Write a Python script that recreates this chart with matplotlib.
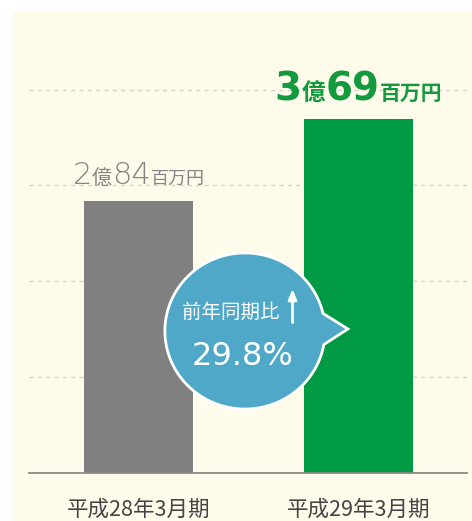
import matplotlib
matplotlib.use('Agg')
import matplotlib.pyplot as plt
import numpy as np
from matplotlib.path import Path
from matplotlib.patches import PathPatch
from matplotlib.offsetbox import TextArea, HPacker, AnnotationBbox

plt.rcParams['font.family'] = ['Noto Sans CJK JP', 'DejaVu Sans']

# 데이터 (백만엔)
periods = ['平成28年3月期', '平成29年3月期']
sales = [284, 369]
label_oku = ['2', '3']
label_rest = ['84', '69']
growth = 29.8
grid_values = [100, 200, 300, 400]

bar_colors = ['#808080', '#009944']
text_colors = ['#858585', '#139a3f']
cream = '#fefbea'

fig = plt.figure(figsize=(4.72, 5.21), dpi=100)
ax = fig.add_axes([13 / 472, 0, 459 / 472, 510 / 521])
ax.set_facecolor(cream)
ax.set_xlim(-0.5705, 1.516)
ax.set_ylim(-50, 482)
for s in ax.spines.values():
    s.set_visible(False)
ax.set_xticks([])
ax.set_yticks([])

x = np.arange(len(periods))

# 점선 격자
for g in grid_values:
    ax.plot([-0.498, 1.493], [g, g], ls=(0, (3, 3)), color='#d6d4ca', lw=1.0, zorder=1)

ax.bar(x, sales, width=0.495, color=bar_colors, zorder=2)
ax.plot([-0.498, 1.493], [0, 0], color='#8a8a88', lw=1.3, zorder=3)

# x축 이름
for xi, p in zip(x, periods):
    ax.text(xi, -38, p, ha='center', va='center', fontsize=15.5, color='#444444')

# 막대 위 금액 라벨 (글자 크기 섞어서)
sizes = [(22, 14.5, 13), (28, 17, 15)]
digit_weights = ['light', 'bold']
weights = ['normal', 'bold']
for i in range(len(sales)):
    d, k1, k2 = sizes[i]
    c = text_colors[i]
    w = weights[i]
    dw = digit_weights[i]
    parts = [
        TextArea(label_oku[i], textprops=dict(fontsize=d, color=c, weight=dw,
                                              family=['DejaVu Sans'])),
        TextArea('億', textprops=dict(fontsize=k1, color=c, weight=w)),
        TextArea(label_rest[i], textprops=dict(fontsize=d, color=c, weight=dw,
                                               family=['DejaVu Sans'])),
        TextArea('百万円', textprops=dict(fontsize=k2, color=c, weight=w)),
    ]
    box = HPacker(children=parts, align='baseline', pad=0, sep=0)
    ab = AnnotationBbox(box, (x[i], sales[i]), xybox=(0, 8),
                        xycoords='data', boxcoords='offset points',
                        box_alignment=(0.5, 0), frameon=False, zorder=4)
    ax.add_artist(ab)

# 말풍선
cx, cy = 0.484, 148.2
rx, ry = 0.364, 81.4
tip = (0.952, 150.3)
a1, a2 = np.deg2rad(13), np.deg2rad(350)
t = np.linspace(a1, a2, 200)
pts = np.column_stack([cx + rx * np.cos(t), cy + ry * np.sin(t)])
pts = np.vstack([pts, tip, pts[0]])
codes = [Path.MOVETO] + [Path.LINETO] * (len(pts) - 2) + [Path.CLOSEPOLY]
bubble = PathPatch(Path(pts, codes), facecolor='#4fa8c8', edgecolor='white',
                   lw=2, zorder=5)
ax.add_patch(bubble)

ax.text(0.42, 168, '前年同期比', ha='center', va='center', fontsize=14,
        color='white', zorder=6)
ax.annotate('', xy=(0.70, 192), xytext=(0.70, 157),
            arrowprops=dict(arrowstyle='-|>,head_length=0.6,head_width=0.25',
                            color='white', lw=2, shrinkA=0, shrinkB=0), zorder=6)
ax.text(0.475, 122, f'{growth}%', ha='center', va='center', fontsize=23,
        color='white', family=['DejaVu Sans'], zorder=6)

fig.savefig('out.png', dpi=100)
